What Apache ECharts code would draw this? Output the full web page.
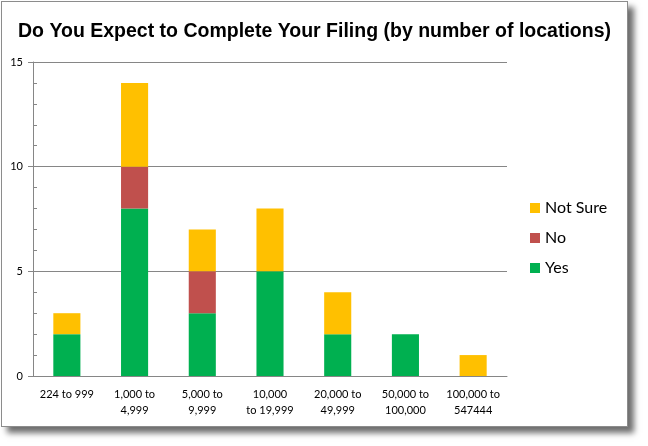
<!DOCTYPE html>
<html>
<head>
<meta charset="utf-8">
<script src="https://cdn.jsdelivr.net/npm/echarts@6/dist/echarts.min.js"></script>
<style>
    html, body { margin: 0; padding: 0; background: #fff; }
    #frame {
        position: absolute; left: 1px; top: 1px;
        width: 625px; height: 424px;
        border: 1px solid #8c8c8c;
        box-shadow: 6px 6px 6px #6e6e6e;
        background: #fff;
    }
    #chart { width: 625px; height: 424px; }
</style>
</head>
<body>
<div id="frame"><div id="chart"></div></div>
<script>
// categories and values
const categories = ["224 to 999", "1,000 to\n4,999", "5,000 to\n9,999", "10,000\nto 19,999",
    "20,000 to\n49,999", "50,000 to\n100,000", "100,000 to\n547444"];
const yesValues = [2, 8, 3, 5, 2, 2, 0];
const noValues = [0, 2, 2, 0, 0, 0, 0];
const notSureValues = [1, 4, 2, 3, 2, 0, 1];
const yTicks = [0, 5, 10, 15];

const labelFont = "Lato, 'Open Sans', sans-serif";
const gray = "#868686";
const gridLeft = 31, gridRight = 120;

let chart = echarts.init(document.getElementById("chart"));

// zero-height segments are hidden so they don't leave a sliver
const toData = (arr) => arr.map(v => v === 0 ? null : v);

let option = {
    animation: false,
    title: {
        text: "Do You Expect to Complete Your Filing (by number of locations)",
        left: "center",
        top: 15,
        textStyle: {
            fontFamily: "Arial, 'Liberation Sans', sans-serif",
            fontWeight: "bold",
            fontSize: 19.5,
            color: "#000"
        }
    },
    legend: {
        data: ["Not Sure", "No", "Yes"],
        orient: "vertical",
        left: 523,
        top: 193,
        itemWidth: 10,
        itemHeight: 10,
        itemGap: 14,
        icon: "rect",
        textStyle: {fontFamily: labelFont, fontSize: 16, color: "#000"}
    },
    grid: {left: gridLeft, right: gridRight, top: 60, bottom: 50},
    xAxis: {
        type: "category",
        data: categories,
        axisLine: {lineStyle: {color: gray}},
        axisTick: {length: 5, lineStyle: {color: gray}},
        axisLabel: {
            interval: 0,
            margin: 10,
            fontFamily: labelFont,
            fontSize: 11,
            lineHeight: 16,
            color: "#000"
        }
    },
    yAxis: [{
        type: "value",
        min: yTicks[0],
        max: yTicks[yTicks.length - 1],
        interval: 5,
        axisLine: {show: true, lineStyle: {color: gray}},
        axisTick: {show: true, length: 5, lineStyle: {color: gray}},
        axisLabel: {margin: 10, fontFamily: labelFont, fontSize: 11, color: "#000"},
        splitLine: {lineStyle: {color: gray}}
    }, {
        // a right-side copy pulled over to the left edge: its ticks point into the plot
        type: "value",
        position: "right",
        offset: -(625 - gridLeft - gridRight),
        min: yTicks[0],
        max: yTicks[yTicks.length - 1],
        interval: 1,
        axisLine: {show: false},
        axisTick: {show: true, length: 4, lineStyle: {color: gray}},
        axisLabel: {show: false},
        splitLine: {show: false}
    }],
    series: [{
        name: "Yes",
        type: "bar",
        stack: "total",
        data: toData(yesValues),
        barWidth: "40%",
        itemStyle: {color: "#00B050"}
    }, {
        name: "No",
        type: "bar",
        stack: "total",
        data: toData(noValues),
        barWidth: "40%",
        itemStyle: {color: "#C0504D"}
    }, {
        name: "Not Sure",
        type: "bar",
        stack: "total",
        data: toData(notSureValues),
        barWidth: "40%",
        itemStyle: {color: "#FFC000"}
    }]
};
chart.setOption(option);
</script>
</body>
</html>
